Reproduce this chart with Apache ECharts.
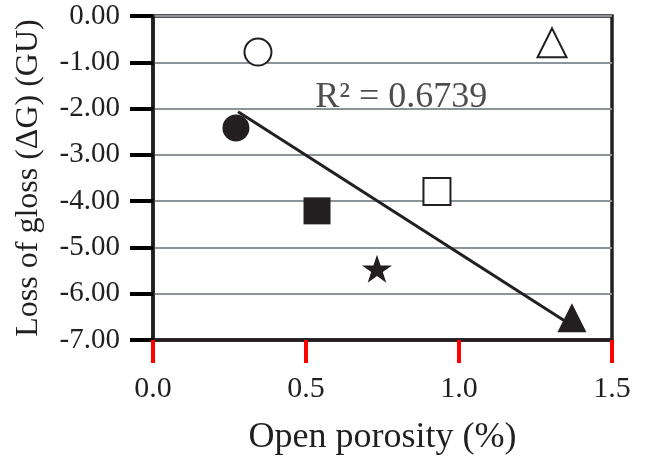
<!DOCTYPE html>
<html>
<head>
    <meta charset="utf-8">
    <title>Loss of gloss vs open porosity</title>
    <script type="text/javascript" src="https://cdn.jsdelivr.net/npm/echarts@6/dist/echarts.min.js"></script>
</head>
<style type="text/css">
    html, body { margin: 0; padding: 0; background: #fff; }
    #chart { width: 648px; height: 471px; }
</style>
<body>
    <div id="chart"></div>
    <script type="text/javascript">
        // samples
        var porosity = [0.343, 0.271, 0.536, 0.732, 0.928, 1.304, 1.369];
        var gloss = [-0.78, -2.42, -4.21, -5.46, -3.79, -0.58, -6.52];
        var shapes = ['circle', 'circle', 'rect', 'star', 'rect', 'triangle', 'triangle'];
        var filled = [false, true, true, true, false, false, true];

        // trend line end points
        var trendX = [0.278, 1.346];
        var trendY = [-2.07, -6.59];
        var r2Label = 'R² = 0.6739';
        var r2Pos = [0.53, -1.77];

        var xTicks = [0, 0.5, 1.0, 1.5];
        var yTicks = [0, -1, -2, -3, -4, -5, -6, -7];

        var ink = '#231f20';
        var serif = '"Liberation Serif", "Times New Roman", serif';
        var starPath = 'path://M50,0 L61.8,35.1 L98.9,35.1 L68.9,56.7 L80.3,91.3 L50,69.7 L19.7,91.3 L31.1,56.7 L1.1,35.1 L38.2,35.1 Z';

        var points = porosity.map(function(x, i) {
            var s = shapes[i] === 'star' ? starPath : shapes[i];
            return {
                value: [x, gloss[i]],
                symbol: s,
                symbolSize: shapes[i] === 'star' ? 30 : (shapes[i] === 'triangle' ? 29 : 27),
                itemStyle: {
                    color: filled[i] ? ink : '#fff',
                    borderColor: ink,
                    borderWidth: filled[i] ? 0 : 2,
                    opacity: 1
                }
            };
        });

        var chart = echarts.init(document.getElementById('chart'));

        var option = {
            animation: false,
            grid: {
                left: 153,
                right: 36,
                top: 16,
                bottom: 131,
                show: true,
                borderColor: ink,
                borderWidth: 3.5,
                backgroundColor: 'transparent'
            },
            xAxis: {
                type: 'value',
                position: 'bottom',
                min: xTicks[0],
                max: xTicks[xTicks.length - 1],
                interval: 0.5,
                name: 'Open porosity (%)',
                nameLocation: 'middle',
                nameGap: 80,
                nameTextStyle: { fontFamily: serif, fontSize: 36, color: ink },
                axisLine: { show: true, onZero: false, lineStyle: { color: ink, width: 3.5 } },
                axisTick: { show: true, length: 23, lineStyle: { color: 'red', width: 4 } },
                axisLabel: {
                    margin: 34,
                    fontFamily: serif,
                    fontSize: 30,
                    color: ink,
                    formatter: function(v) { return v.toFixed(1); }
                },
                splitLine: { show: false }
            },
            yAxis: {
                type: 'value',
                position: 'left',
                min: yTicks[yTicks.length - 1],
                max: yTicks[0],
                interval: 1,
                name: 'Loss of gloss (ΔG) (GU)',
                nameLocation: 'middle',
                nameGap: 108,
                nameTextStyle: { fontFamily: serif, fontSize: 32, color: ink },
                axisLine: { show: true, lineStyle: { color: ink, width: 3.5 } },
                axisTick: { show: true, length: 23, lineStyle: { color: '#000000', width: 4 } },
                axisLabel: {
                    margin: 33,
                    fontFamily: serif,
                    fontSize: 29,
                    color: ink,
                    formatter: function(v) { return v.toFixed(2); }
                },
                splitLine: { show: true, lineStyle: { color: '#8c9399', width: 2 } }
            },
            series: [{
                name: 'trend',
                type: 'line',
                data: [[trendX[0], trendY[0]], [trendX[1], trendY[1]]],
                symbol: 'none',
                lineStyle: { color: ink, width: 3 },
                z: 2
            }, {
                name: 'samples',
                type: 'scatter',
                data: points,
                symbolKeepAspect: true,
                z: 3
            }, {
                name: 'r2',
                type: 'scatter',
                data: [r2Pos],
                symbolSize: 0,
                silent: true,
                label: {
                    show: true,
                    position: 'right',
                    distance: 0,
                    formatter: r2Label,
                    fontFamily: serif,
                    fontSize: 36,
                    color: ink
                },
                z: 1
            }]
        };
        chart.setOption(option);
    </script>
</body>
</html>
